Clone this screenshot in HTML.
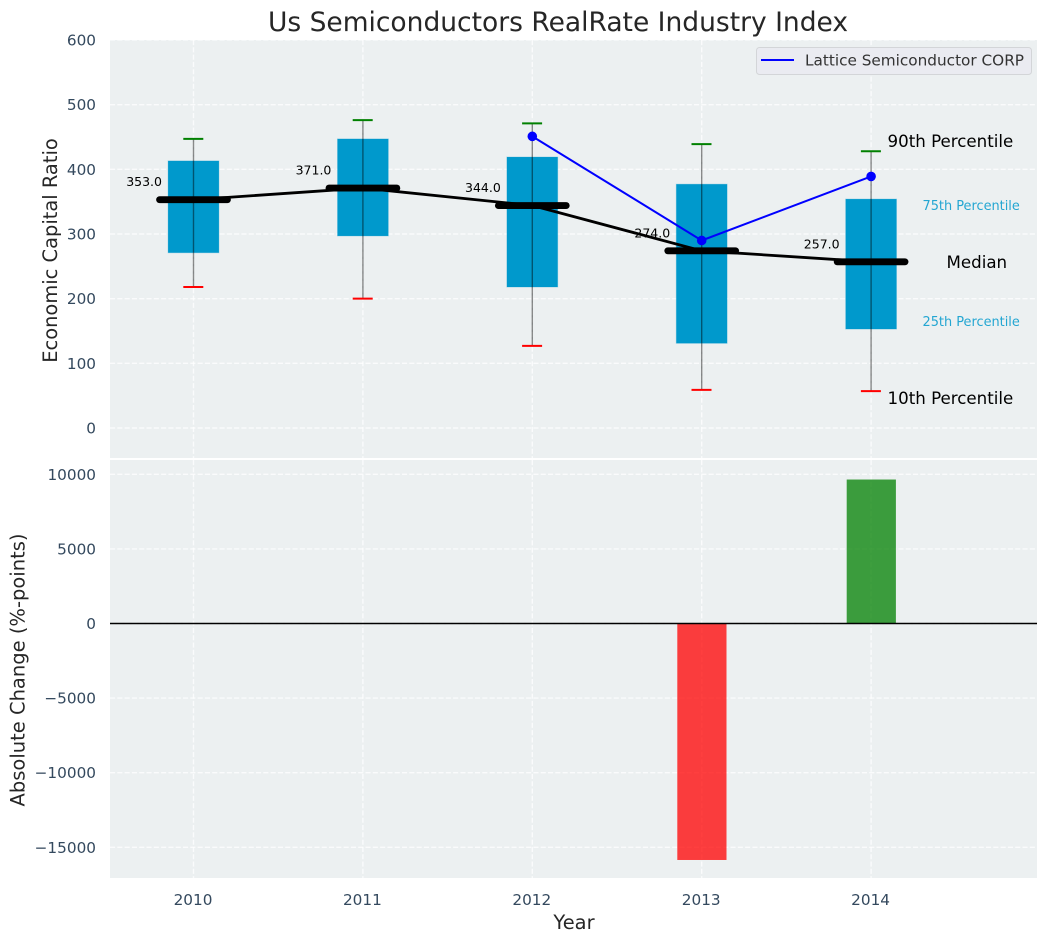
<!DOCTYPE html>
<html lang="en">
<head>
<meta charset="utf-8">
<title>Us Semiconductors RealRate Industry Index</title>
<style>
html,body{margin:0;padding:0;background:#fff;width:1048px;height:942px;overflow:hidden}
svg{display:block}
text{font-family:"DejaVu Sans","Liberation Sans",sans-serif}
</style>
</head>
<body>
<svg id="chart" width="1048" height="942" viewBox="0 0 1048 942" xmlns="http://www.w3.org/2000/svg">
  <text x="558" y="31" text-anchor="middle" font-size="26.5" fill="#262626">Us Semiconductors RealRate Industry Index</text>
  <rect x="110" y="40" width="927" height="418" fill="#ecf0f1"/>
  <rect x="110" y="460" width="927" height="418" fill="#ecf0f1"/>
  <g id="grid"></g>
  <g id="bars"></g>
  <line x1="110" x2="1037" y1="623.5" y2="623.5" stroke="#000" stroke-width="1.4"/>
  <g id="boxes"></g>
  <g id="lines"></g>
  <g id="labels"></g>
  <g id="ticks"></g>
  <text x="0" y="0" transform="translate(57 250.5) rotate(-90)" text-anchor="middle" font-size="19.44" fill="#262626">Economic Capital Ratio</text>
  <text x="0" y="0" transform="translate(24.5 670) rotate(-90)" text-anchor="middle" font-size="19.5" fill="#262626">Absolute Change (%-points)</text>
  <text x="574" y="929" text-anchor="middle" font-size="19.44" fill="#262626">Year</text>
  <g>
    <rect x="756.5" y="47.5" width="275" height="27" rx="3" fill="#eaebf1" stroke="#d3d5d8" stroke-width="1"/>
    <line x1="761" x2="794" y1="60" y2="60" stroke="#0000ff" stroke-width="2"/>
    <text x="805" y="65.5" font-size="15.28" fill="#333">Lattice Semiconductor CORP</text>
  </g>
</svg>
<script>
const years = [2010, 2011, 2012, 2013, 2014];
const p10 = [218, 200, 127, 59, 57];
const p25 = [271, 297, 218, 131, 153];
const median = [353, 371, 344, 274, 257];
const p75 = [413, 447, 419, 377, 354];
const p90 = [447, 476, 471, 439, 428];
const companyYears = [2012, 2013, 2014];
const companyValues = [451, 290, 389];
const changeYears = [2013, 2014];
const changeValues = [-15850, 9650];
const topTicks = [0, 100, 200, 300, 400, 500, 600];
const bottomTicks = [-15000, -10000, -5000, 0, 5000, 10000];

const NS = 'http://www.w3.org/2000/svg';
const xS = v => 193.5 + (v - 2010) * 169.4;
const yTop = v => 428 - v * 0.6467;
const yBot = v => 623.5 - v * 0.01492;
function mk(parent, tag, attrs, content) {
  const el = document.createElementNS(NS, tag);
  for (const k in attrs) el.setAttribute(k, attrs[k]);
  if (content !== undefined) el.textContent = content;
  parent.appendChild(el);
  return el;
}
const gGrid = document.getElementById('grid');
const gBars = document.getElementById('bars');
const gBoxes = document.getElementById('boxes');
const gLines = document.getElementById('lines');
const gLabels = document.getElementById('labels');
const gTicks = document.getElementById('ticks');
const gridStyle = {stroke: '#fff', 'stroke-width': 1.4, 'stroke-dasharray': '5.1 2.2', 'stroke-opacity': 0.75};

topTicks.forEach(t => {
  const g = mk(gGrid, 'line', {x1: 110, x2: 1037, y1: yTop(t), y2: yTop(t), ...gridStyle});
  
  
  const l = mk(gTicks, 'text', {x: 96, y: yTop(t) + 5.5, 'text-anchor': 'end', 'font-size': 15.28, fill: '#34495e'}, String(t));
  
  
});
bottomTicks.forEach(t => {
  const g = mk(gGrid, 'line', {x1: 110, x2: 1037, y1: yBot(t), y2: yBot(t), ...gridStyle});
  
  
  const l = mk(gTicks, 'text', {x: 96, y: yBot(t) + 5.5, 'text-anchor': 'end', 'font-size': 15.28, fill: '#34495e'}, String(t).replace('-', '\u2212'));
  
  
});
years.forEach(y => {
  const g1 = mk(gGrid, 'line', {x1: xS(y), x2: xS(y), y1: 40, y2: 458, ...gridStyle});
  
  
  const g2 = mk(gGrid, 'line', {x1: xS(y), x2: xS(y), y1: 460, y2: 878, ...gridStyle});
  
  
  const l = mk(gTicks, 'text', {x: xS(y) - 0.5, y: 905, 'text-anchor': 'middle', 'font-size': 15.28, fill: '#34495e'}, String(y));
  
  
});

changeValues.forEach((v, i) => {
  const cx = xS(changeYears[i]);
  const y0 = yBot(0), y1 = yBot(v);
  const b = mk(gBars, 'rect', {x: cx - 24.4, width: 49.2, y: Math.min(y0, y1), height: Math.abs(y1 - y0),
    fill: v < 0 ? '#ff0000' : '#008000', 'fill-opacity': 0.75});
  
  
});

years.forEach((y, i) => {
  const cx = xS(y);
  const box = mk(gBoxes, 'rect', {x: cx - 25.4, width: 50.8, y: yTop(p75[i]), height: yTop(p25[i]) - yTop(p75[i]), fill: '#0099cc', stroke: '#0099cc', 'stroke-opacity': 0.25, 'stroke-width': 1});
  
  
  const w = mk(gBoxes, 'line', {x1: cx, x2: cx, y1: yTop(p90[i]), y2: yTop(p10[i]), stroke: '#000', 'stroke-opacity': 0.45, 'stroke-width': 1.4});
  
  
  const hi = mk(gBoxes, 'line', {x1: cx - 10.2, x2: cx + 9.8, y1: yTop(p90[i]), y2: yTop(p90[i]), stroke: '#008000', 'stroke-width': 2});
  
  
  const lo = mk(gBoxes, 'line', {x1: cx - 10.2, x2: cx + 9.8, y1: yTop(p10[i]), y2: yTop(p10[i]), stroke: '#ff0000', 'stroke-width': 2});
  
  
});

const medLine = mk(gLines, 'polyline', {points: years.map((y, i) => xS(y) + ',' + yTop(median[i])).join(' '), fill: 'none', stroke: '#000', 'stroke-width': 2.8});


years.forEach((y, i) => {
  const m = mk(gLines, 'line', {x1: xS(y) - 33.9, x2: xS(y) + 33.9, y1: yTop(median[i]), y2: yTop(median[i]), stroke: '#000', 'stroke-width': 6.9, 'stroke-linecap': 'round'});
  
  
  const t = mk(gLabels, 'text', {x: xS(y) - 67.3, y: yTop(median[i]) - 13.5, 'font-size': 12.5, fill: '#000'}, median[i].toFixed(1));
  
  
});
const coLine = mk(gLines, 'polyline', {points: companyYears.map((y, i) => xS(y) + ',' + yTop(companyValues[i])).join(' '), fill: 'none', stroke: '#0000ff', 'stroke-width': 2});


companyYears.forEach((y, i) => {
  const c = mk(gLines, 'circle', {cx: xS(y), cy: yTop(companyValues[i]), r: 4.8, fill: '#0000ff'});
  
  
});

const last = years.length - 1;
const lx = xS(years[last]) - 0.6;
const a90 = mk(gLabels, 'text', {x: lx + 17, y: yTop(p90[last]) - 4, 'font-size': 16.67, fill: '#000'}, '90th Percentile');


const a75 = mk(gLabels, 'text', {x: lx + 52, y: yTop(p75[last]) + 11, 'font-size': 12.9, fill: '#0099cc', 'fill-opacity': 0.85}, '75th Percentile');


const a50 = mk(gLabels, 'text', {x: lx + 76, y: yTop(median[last]) + 6, 'font-size': 16.67, fill: '#000'}, 'Median');


const a25 = mk(gLabels, 'text', {x: lx + 52, y: yTop(p25[last]) - 3, 'font-size': 12.9, fill: '#0099cc', 'fill-opacity': 0.85}, '25th Percentile');


const a10 = mk(gLabels, 'text', {x: lx + 17, y: yTop(p10[last]) + 13, 'font-size': 16.67, fill: '#000'}, '10th Percentile');


</script>
</body>
</html>
